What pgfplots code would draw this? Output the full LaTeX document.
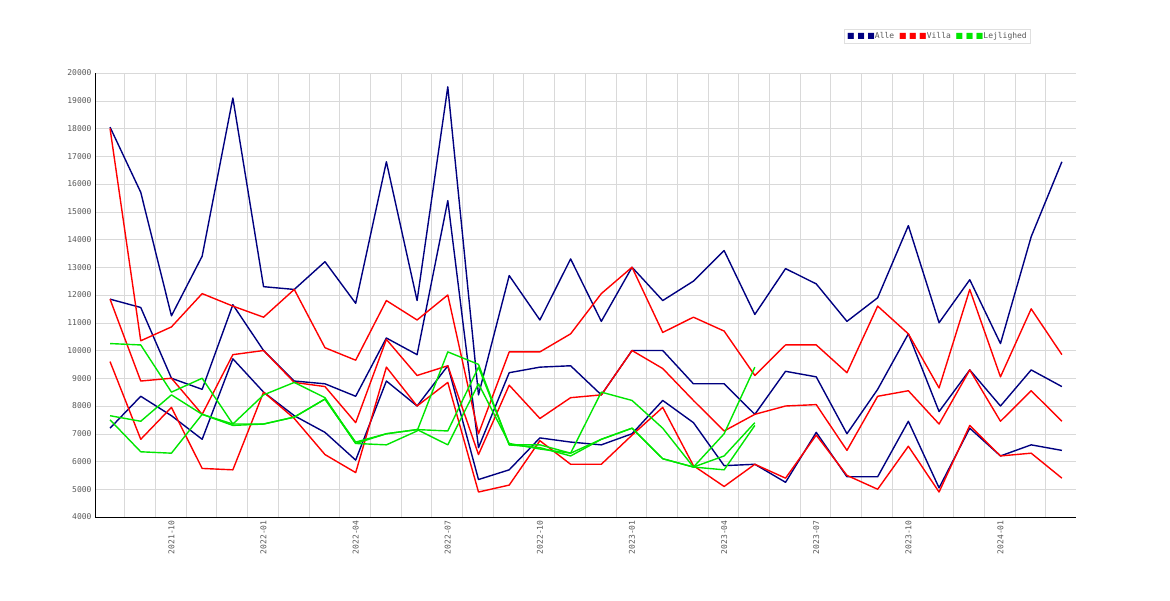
\documentclass[border=0pt]{standalone}
\usepackage{pgfplots}
\pgfplotsset{compat=1.18}
\usepackage{fontspec}
\setmainfont{DejaVu Sans Mono}
\newfontfamily\sym{DejaVu Sans}
\definecolor{navy}{RGB}{0,0,128}
\definecolor{lgreen}{RGB}{0,230,0}
\begin{document}
\begin{tikzpicture}
\path[use as bounding box] (0pt,0pt) rectangle (1170pt,600pt);
\begin{axis}[at={(95pt,83pt)},anchor=south west,scale only axis,width=981pt,height=444pt,
 xmin=-0.49,xmax=31.46,ymin=4000,ymax=20000,
 xtick={0.47,1.47,...,30.47},xticklabels={},xmajorgrids,
 extra x ticks={2,5,8,11,14,17,20,23,26,29},
 extra x tick labels={2021-10,2022-01,2022-04,2022-07,2022-10,2023-01,2023-04,2023-07,2023-10,2024-01},
 extra x tick style={grid=none,tick label style={rotate=90,anchor=east}},
 ytick={4000,5000,...,20000},ymajorgrids,scaled y ticks=false,
 grid style={gray!30},
 tick style={draw=none},
 axis x line*=bottom, axis y line*=left,
 tick label style={font=\fontsize{8}{9}\selectfont,text=gray!70!black},
 /pgf/number format/assume math mode=true,
 /pgf/number format/1000 sep={},
 every axis plot/.append style={line width=1.4pt,mark=none,line join=round},
 clip=false]
\addplot[navy] coordinates {(0,18050)(1,15700)(2,11250)(3,13400)(4,19100)(5,12300)(6,12200)(7,13200)(8,11700)(9,16800)(10,11800)(11,19500)(12,8400)(13,12700)(14,11100)(15,13300)(16,11050)(17,13000)(18,11800)(19,12500)(20,13600)(21,11300)(22,12950)(23,12400)(24,11050)(25,11900)(26,14500)(27,11000)(28,12550)(29,10250)(30,14100)(31,16800)};
\addplot[navy] coordinates {(0,11850)(1,11550)(2,9000)(3,8600)(4,11650)(5,10000)(6,8900)(7,8800)(8,8350)(9,10450)(10,9850)(11,15400)(12,6500)(13,9200)(14,9400)(15,9450)(16,8400)(17,10000)(18,10000)(19,8800)(20,8800)(21,7700)(22,9250)(23,9050)(24,7000)(25,8600)(26,10600)(27,7800)(28,9300)(29,8000)(30,9300)(31,8700)};
\addplot[navy] coordinates {(0,7200)(1,8350)(2,7650)(3,6800)(4,9700)(5,8500)(6,7650)(7,7050)(8,6050)(9,8900)(10,8000)(11,9450)(12,5350)(13,5700)(14,6850)(15,6700)(16,6600)(17,7000)(18,8200)(19,7400)(20,5850)(21,5900)(22,5250)(23,7050)(24,5450)(25,5450)(26,7450)(27,5050)(28,7200)(29,6200)(30,6600)(31,6400)};
\addplot[red] coordinates {(0,18000)(1,10350)(2,10850)(3,12050)(4,11600)(5,11200)(6,12200)(7,10100)(8,9650)(9,11800)(10,11100)(11,12000)(12,7000)(13,9950)(14,9950)(15,10600)(16,12050)(17,13000)(18,10650)(19,11200)(20,10700)(21,9100)(22,10200)(23,10200)(24,9200)(25,11600)(26,10600)(27,8650)(28,12200)(29,9050)(30,11500)(31,9850)};
\addplot[red] coordinates {(0,11850)(1,8900)(2,9000)(3,7700)(4,9850)(5,10000)(6,8850)(7,8700)(8,7400)(9,10400)(10,9100)(11,9450)(12,6250)(13,8750)(14,7550)(15,8300)(16,8400)(17,10000)(18,9350)(19,8200)(20,7100)(21,7700)(22,8000)(23,8050)(24,6400)(25,8350)(26,8550)(27,7350)(28,9300)(29,7450)(30,8550)(31,7450)};
\addplot[red] coordinates {(0,9600)(1,6800)(2,7950)(3,5750)(4,5700)(5,8500)(6,7550)(7,6250)(8,5600)(9,9400)(10,8000)(11,8850)(12,4900)(13,5150)(14,6750)(15,5900)(16,5900)(17,6950)(18,7950)(19,5850)(20,5100)(21,5900)(22,5400)(23,6950)(24,5500)(25,5000)(26,6550)(27,4900)(28,7300)(29,6200)(30,6300)(31,5400)};
\addplot[lgreen] coordinates {(0,10250)(1,10200)(2,8500)(3,9000)(4,7350)(5,8400)(6,8850)(7,8300)(8,6650)(9,6600)(10,7100)(11,9950)(12,9500)(13,6600)(14,6600)(15,6300)(16,8500)(17,8200)(18,7200)(19,5800)(20,7000)(21,9400)};
\addplot[lgreen] coordinates {(0,7650)(1,7450)(2,8400)(3,7700)(4,7350)(5,7350)(6,7600)(7,8250)(8,6650)(9,7000)(10,7150)(11,6600)(12,8800)(13,6650)(14,6450)(15,6300)(16,6800)(17,7200)(18,6100)(19,5800)(20,5700)(21,7300)};
\addplot[lgreen] coordinates {(0,7500)(1,6350)(2,6300)(3,7700)(4,7300)(5,7350)(6,7600)(7,8250)(8,6700)(9,7000)(10,7150)(11,7100)(12,9400)(13,6600)(14,6500)(15,6200)(16,6800)(17,7200)(18,6100)(19,5800)(20,6200)(21,7400)};
\end{axis}
\node[draw=gray!25,fill=white,inner sep=3pt,anchor=center,font=\fontsize{8}{9}\selectfont,text=gray!70!black] at (937pt,564pt)
{{\sym\color{navy}■ ■ ■}Alle {\sym\color{red}■ ■ ■}Villa {\sym\color{lgreen}■ ■ ■}Lejlighed};
\end{tikzpicture}
\end{document}
